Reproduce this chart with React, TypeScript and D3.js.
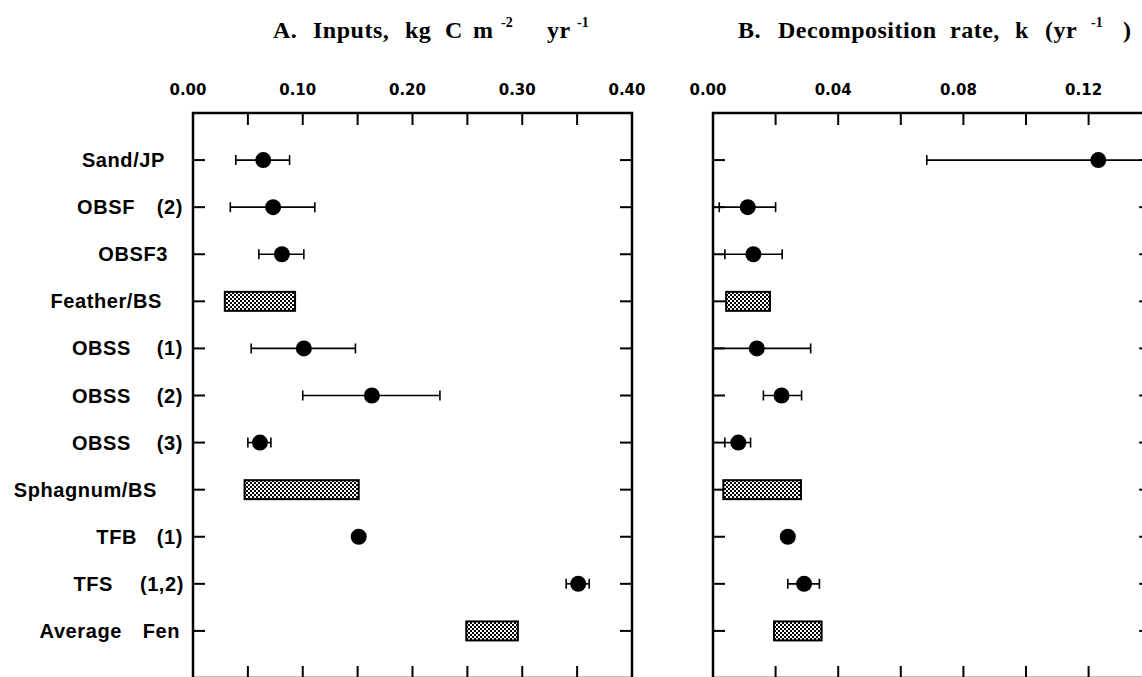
import React from "react";
import * as d3 from "d3";

// ---------- data ----------
const categories = [
  "Sand/JP",
  "OBSF (2)",
  "OBSF3",
  "Feather/BS",
  "OBSS (1)",
  "OBSS (2)",
  "OBSS (3)",
  "Sphagnum/BS",
  "TFB (1)",
  "TFS (1,2)",
  "Average Fen",
];
const markKind = ["point", "point", "point", "range", "point", "point", "point", "range", "point", "point", "range"];

// A. Inputs, kg C m-2 yr-1
const inputsMean = [0.064, 0.073, 0.081, null, 0.101, 0.163, 0.061, null, 0.151, 0.351, null];
const inputsLow = [0.039, 0.034, 0.060, 0.029, 0.053, 0.100, 0.050, 0.047, null, 0.340, 0.249];
const inputsHigh = [0.088, 0.111, 0.101, 0.093, 0.148, 0.225, 0.071, 0.151, null, 0.361, 0.296];

// B. Decomposition rate, k (yr-1)
const decayMean = [0.1231, 0.0111, 0.0129, null, 0.014, 0.0219, 0.0081, null, 0.0239, 0.0291, null];
const decayLow = [0.0683, 0.002, 0.0038, 0.0042, 0.0, 0.0161, 0.0038, 0.0033, null, 0.0239, 0.0195];
const decayHigh = [0.178, 0.02, 0.0221, 0.0182, 0.0312, 0.0283, 0.012, 0.0281, null, 0.034, 0.0347];

const inputsTickLabels = ["0.00", "0.10", "0.20", "0.30", "0.40"];
const decayTickLabels = ["0.00", "0.04", "0.08", "0.12"];

// ---------- layout ----------
const W = 1142;
const H = 677;
const TOP = 113;
const BOTTOM = 678;
const labelEnds = [[165], [135, 183], [168], [162], [131, 183], [131, 183], [131, 183], [157], [137, 183], [113, 184], [122, 180]];

const titleA = [
  { t: "A.", x: 273 },
  { t: "Inputs,", x: 313 },
  { t: "kg", x: 405 },
  { t: "C", x: 445 },
  { t: "m", x: 473 },
  { t: "-2", x: 501, sup: true },
  { t: "yr", x: 547 },
  { t: "-1", x: 577, sup: true },
];
const titleB = [
  { t: "B.", x: 738 },
  { t: "Decomposition", x: 778 },
  { t: "rate,", x: 950 },
  { t: "k", x: 1015 },
  { t: "(yr", x: 1045 },
  { t: "-1", x: 1091, sup: true },
  { t: ")", x: 1123 },
];

const y = d3.scalePoint<string>().domain(categories).range([TOP, BOTTOM]).padding(1);
const xA = d3.scaleLinear().domain([0, 0.4]).range([193, 632]);
const xB = d3.scaleLinear().domain([0, 0.14]).range([713, 713 + 0.14 * 3130]);

const serif = "'Liberation Serif', 'Times New Roman', serif";
const sans = "'Liberation Sans', Arial, sans-serif";
const tickFont = "'DejaVu Sans', Verdana, sans-serif";

function Title({ segs }: { segs: { t: string; x: number; sup?: boolean }[] }) {
  return (
    <g fontFamily={serif} fontWeight="bold">
      {segs.map((s, i) => (
        <text
          key={i}
          x={s.x}
          y={s.sup ? 27 : 38}
          fontSize={s.sup ? 14 : 24}
          letterSpacing={s.sup ? 0 : 0.5}
          fill="#000"
        >
          {s.t}
        </text>
      ))}
    </g>
  );
}

function Panel({
  x,
  mean,
  low,
  high,
  minorStep,
  nMinor,
  labels,
}: {
  x: d3.ScaleLinear<number, number>;
  mean: (number | null)[];
  low: (number | null)[];
  high: (number | null)[];
  minorStep: number;
  nMinor: number;
  labels: string[];
}) {
  const [d0, d1] = x.domain();
  const left = x(d0);
  const right = x(d1);
  const minor = d3.range(1, nMinor + 1).map((i) => i * minorStep);
  const tickLen = 12;
  return (
    <g>
      {/* tick labels */}
      {labels.map((l) => (
        <text
          key={l}
          x={x(parseFloat(l)) - 5}
          y={95}
          textAnchor="middle"
          fontFamily={tickFont}
          fontWeight="bold"
          fontSize={15}
          fill="#000"
        >
          {l}
        </text>
      ))}
      {/* frame */}
      <path
        d={`M${left},${BOTTOM}V${TOP}H${right}V${BOTTOM}`}
        fill="none"
        stroke="#000"
        strokeWidth={2.5}
      />
      <line x1={left} x2={right} y1={BOTTOM} y2={BOTTOM} stroke="#000" strokeWidth={2.5} />
      {/* top & bottom ticks */}
      {minor.map((v, i) => (
        <g key={i}>
          <line x1={x(v)} x2={x(v)} y1={TOP} y2={TOP + tickLen} stroke="#000" strokeWidth={2} />
          <line x1={x(v)} x2={x(v)} y1={BOTTOM} y2={BOTTOM - tickLen} stroke="#000" strokeWidth={2} />
        </g>
      ))}
      {/* left & right ticks */}
      {categories.map((c) => (
        <g key={c}>
          <line x1={left} x2={left + tickLen} y1={y(c)} y2={y(c)} stroke="#000" strokeWidth={2} />
          <line x1={right} x2={right - tickLen} y1={y(c)} y2={y(c)} stroke="#000" strokeWidth={2} />
        </g>
      ))}
      {/* marks */}
      {categories.map((c, i) => {
        const yy = y(c) as number;
        if (markKind[i] === "range") {
          const x0 = x(low[i] as number);
          const x1 = x(high[i] as number);
          return (
            <rect
              key={c}
              x={x0}
              y={yy - 9.5}
              width={x1 - x0}
              height={19}
              fill="url(#stipple)"
              stroke="#000"
              strokeWidth={2}
            />
          );
        }
        return (
          <g key={c}>
            {low[i] != null && high[i] != null && (
              <g stroke="#000" strokeWidth={1.6}>
                <line x1={x(low[i] as number)} x2={x(high[i] as number)} y1={yy} y2={yy} />
                <line x1={x(low[i] as number)} x2={x(low[i] as number)} y1={yy - 5} y2={yy + 5} />
                <line x1={x(high[i] as number)} x2={x(high[i] as number)} y1={yy - 5} y2={yy + 5} />
              </g>
            )}
            <circle cx={x(mean[i] as number)} cy={yy} r={8} fill="#000" />
          </g>
        );
      })}
    </g>
  );
}

export default function App() {
  return (
    <svg
      width={W}
      height={H}
      viewBox={`0 0 ${W} ${H}`}
      style={{ position: "absolute", left: 0, top: 0, display: "block", background: "#fff" }}
    >
      <defs>
        <pattern id="stipple" patternUnits="userSpaceOnUse" width={4} height={4}>
          <rect width={4} height={4} fill="#fff" />
          <rect x={0} y={0} width={2} height={2} fill="#000" />
          <rect x={2} y={2} width={2} height={2} fill="#000" />
        </pattern>
      </defs>
      <rect width={W} height={H} fill="#fff" />
      <Title segs={titleA} />
      <Title segs={titleB} />

      {/* category labels */}
      <g fontFamily={sans} fontWeight="bold" fontSize={20} letterSpacing={0.6} fill="#000">
        {categories.map((c, i) => {
          const words = labelEnds[i].length > 1 ? c.split(/\s+/) : [c];
          return words.map((w, j) => (
            <text key={c + j} x={labelEnds[i][j]} y={(y(c) as number) + 7} textAnchor="end">
              {w}
            </text>
          ));
        })}
      </g>

      <Panel
        x={xA}
        mean={inputsMean}
        low={inputsLow}
        high={inputsHigh}
        minorStep={0.05}
        nMinor={7}
        labels={inputsTickLabels}
      />
      <Panel
        x={xB}
        mean={decayMean}
        low={decayLow}
        high={decayHigh}
        minorStep={0.02}
        nMinor={6}
        labels={decayTickLabels}
      />
    </svg>
  );
}
